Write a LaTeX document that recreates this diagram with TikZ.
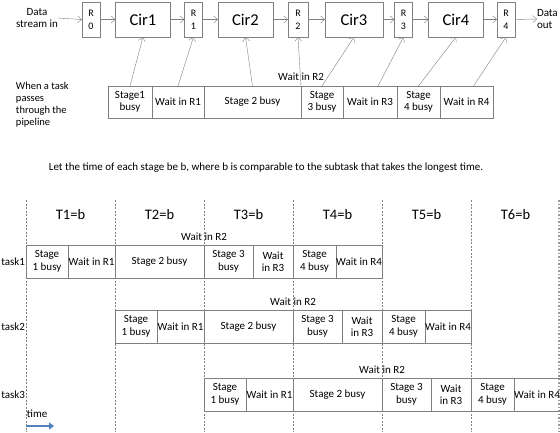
\documentclass[tikz,border=0pt]{standalone}
\usepackage{fontspec}
\setmainfont{Carlito}
\usetikzlibrary{positioning,arrows.meta,calc}
\definecolor{edge}{RGB}{128,128,128}
\definecolor{divide}{RGB}{170,170,170}
\definecolor{timeblue}{RGB}{79,129,189}

\begin{document}
\begin{tikzpicture}[x=1pt,y=-1pt,
    every node/.style={font=\fontsize{11}{12.5}\selectfont,inner sep=0pt,outer sep=0pt},
    reg/.style={draw=edge,minimum width=18pt,minimum height=35pt,align=center,
      font=\fontsize{10}{13}\selectfont},
    cir/.style={draw=edge,minimum width=55pt,minimum height=35pt,
      font=\fontsize{16.5}{18}\selectfont},
    cell/.style={draw=edge,minimum height=32pt,anchor=north west,align=center},
    tcell/.style={cell,minimum height=33pt},
    flow/.style={draw=edge,-{Straight Barb[length=4pt,width=7pt]}},
    slot/.style={draw=edge,dashed,dash pattern=on 2pt off 1.5pt},
    period/.style={font=\fontsize{14.5}{16}\selectfont}]
  \useasboundingbox (0,0) rectangle (560,432);
  % pipeline
  \node[align=center] (din) at (37,18) {Data\\stream in};
  \node[reg] (r0) at (91,19.5) {R\\0};
  \node[cir] (cir1) at (143,19.5) {Cir1};
  \node[reg] (r1) at (193.5,19.5) {R\\1};
  \node[cir] (cir2) at (245.5,19.5) {Cir2};
  \node[reg,minimum width=20pt] (r2) at (298,19.5) {R\\2};
  \node[cir,minimum width=58pt] (cir3) at (354,19.5) {Cir3};
  \node[reg] (r3) at (403.5,19.5) {R\\3};
  \node[cir] (cir4) at (456,19.5) {Cir4};
  \node[reg] (r4) at (506,19.5) {R\\4};
  \node[align=left,anchor=west] (dout) at (537,19) {Data\\out};
  \draw[flow] (din.east) -- (r0.west);
  \draw[flow] (r0) -- (cir1);
  \draw[flow] (cir1) -- (r1);
  \draw[flow] (r1) -- (cir2);
  \draw[flow] (cir2) -- (r2);
  \draw[flow] (r2) -- (cir3);
  \draw[flow] (cir3) -- (r3);
  \draw[flow] (r3) -- (cir4);
  \draw[flow] (cir4) -- (r4);
  \draw[flow] (r4.east) -- (dout.west);
  % one task through the pipeline
  \node[align=left,anchor=north west,font=\fontsize{10.5}{12}\selectfont] (note) at (16,82)
    {When a task\\passes\\through the\\pipeline};
  \node[cell,minimum width=44pt] (s1) at (108,86) {Stage1\\busy};
  \node[cell,minimum width=52pt] (w1) at (s1.north east) {Wait in R1};
  \node[cell,minimum width=97pt] (s2) at (w1.north east) {Stage 2 busy};
  \node[cell,minimum width=42pt] (s3) at (s2.north east) {Stage\\3 busy};
  \node[cell,minimum width=54pt] (w3) at (s3.north east) {Wait in R3};
  \node[cell,minimum width=43pt] (s4) at (w3.north east) {Stage\\4 busy};
  \node[cell,minimum width=53pt] (w4) at (s4.north east) {Wait in R4};
  \node[anchor=south] (w2) at ([yshift=5pt]s2.north east) {Wait in R2};
  \draw[flow] (s1.north) -- (cir1.south);
  \draw[flow] (w1.north) -- (r1.south);
  \draw[flow] (s2.north) -- (cir2.south);
  \draw[flow] (s2.north east) -- (r2.south);
  \draw[flow] (s3.north) -- (cir3.south);
  \draw[flow] ([xshift=8pt]w3.north) -- (r3.south);
  \draw[flow] (s4.north) -- (cir4.south);
  \draw[flow] ([xshift=7pt]w4.north) -- (r4.south);
  \node (rule) at (266,168)
    {Let the time of each stage be b, where b is comparable to the subtask that takes the longest time.};
  % time slots
  \foreach \k in {0,...,5} {
    \draw[slot] (26+89*\k,200) -- (26+89*\k,432);
    \pgfmathtruncatemacro\n{\k+1}
    \node[period] (T\n) at (70.5+89*\k,215) {T\n=b};
  }
  \draw[edge!80,line width=1.5pt,dotted] (559,200) -- (559,432);
  % the three tasks
  \foreach \i/\ty in {1/245,2/310,3/378} {
    \pgfmathsetmacro\tx{26+89*(\i-1)}
    \node[tcell,minimum width=42pt] (task\i-s1) at (\tx,\ty) {Stage\\1 busy};
    \node[tcell,minimum width=47pt] (task\i-w1) at (task\i-s1.north east) {Wait in R1};
    \node[tcell,minimum width=89pt] (task\i-s2) at (task\i-w1.north east) {Stage 2 busy};
    \node[tcell,minimum width=49pt] (task\i-s3) at (task\i-s2.north east) {Stage 3\\busy};
    \node[tcell,minimum width=40pt] (task\i-w3) at (task\i-s3.north east) {Wait\\in R3};
    \node[tcell,minimum width=43pt] (task\i-s4) at (task\i-w3.north east) {Stage\\4 busy};
    \node[tcell,minimum width=46pt] (task\i-w4) at (task\i-s4.north east) {Wait in R4};
    \node[anchor=south] (task\i-w2) at ([yshift=4pt]task\i-s2.north east) {Wait in R2};
    \node[anchor=east] (task\i) at ([xshift=-1pt]task1-s1.west |- task\i-s1.west) {task\i};
  }
  % time arrow
  \node[anchor=west] (time) at (27,414) {time};
  \coordinate (tstart) at (26,426);
  \coordinate (tend) at (54,426);
  \draw[timeblue,line width=2.5pt,-{Triangle[length=5pt,width=7pt]}] (tstart) -- (tend);
\end{tikzpicture}
\end{document}
